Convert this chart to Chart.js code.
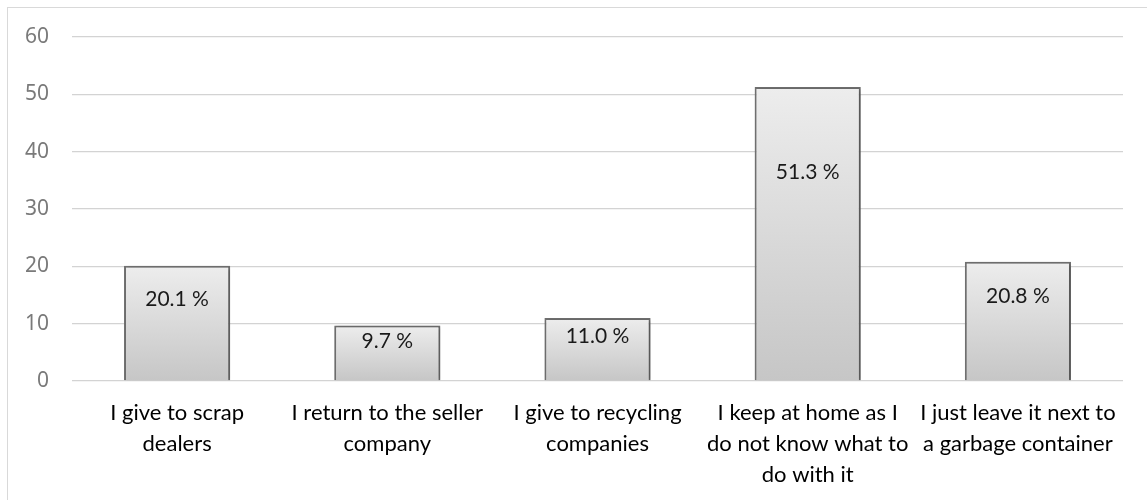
<!DOCTYPE html>
<html>
<head>
<meta charset="utf-8">
<script src="https://cdn.jsdelivr.net/npm/chart.js@4/dist/chart.umd.min.js"></script>
<style>
  html, body { margin: 0; padding: 0; background: #ffffff; overflow: hidden; }
  #wrap { position: relative; width: 1147px; height: 500px; }
  #frame {
    position: absolute; left: 7px; top: 7px; width: 1200px; height: 600px;
    border-left: 1px solid #d9d9d9; border-top: 1px solid #d9d9d9;
  }
  canvas { position: absolute; left: 0; top: 0; }
</style>
</head>
<body>
<div id="wrap">
  <div id="frame"></div>
  <canvas id="chart" width="1147" height="500"></canvas>
</div>
<script>
// What people do with their unused devices (share of respondents, %)
const categories = [
  ["I give to scrap", "dealers"],
  ["I return to the seller", "company"],
  ["I give to recycling", "companies"],
  ["I keep at home as I", "do not know what to", "do with it"],
  ["I just leave it next to", "a garbage container"]
];
const shares = [20.1, 9.7, 11.0, 51.3, 20.8];
const yMin = 0;
const yMax = 60;
const yStep = 10;

// Vertical grey gradient for each bar, from its top down to the baseline
function barFill(ctx) {
  const chart = ctx.chart;
  const area = chart.chartArea;
  if (!area) return '#dcdcdc';
  const yScale = chart.scales.y;
  const top = yScale.getPixelForValue(shares[ctx.dataIndex]);
  const g = chart.ctx.createLinearGradient(0, top, 0, area.bottom);
  g.addColorStop(0, '#ededed');
  g.addColorStop(1, '#c6c6c6');
  return g;
}

// Soft shadow behind the bars
const barShadow = {
  id: 'barShadow',
  beforeDatasetsDraw(chart) {
    const c = chart.ctx;
    c.save();
    c.shadowColor = 'rgba(0,0,0,0.28)';
    c.shadowBlur = 4;
    c.shadowOffsetX = 2;
    c.shadowOffsetY = 1;
  },
  afterDatasetsDraw(chart) {
    chart.ctx.restore();
  }
};

// Percentage written inside the upper part of each bar
const valueLabels = {
  id: 'valueLabels',
  afterDatasetsDraw(chart) {
    const c = chart.ctx;
    const meta = chart.getDatasetMeta(0);
    c.save();
    c.font = '21px Lato, "Noto Sans", sans-serif';
    c.fillStyle = '#1a1a1a';
    c.textAlign = 'center';
    c.textBaseline = 'middle';
    meta.data.forEach((bar, i) => {
      const y = bar.y + (bar.base - bar.y) * 0.29;
      c.fillText(shares[i].toFixed(1) + ' %', bar.x, y);
    });
    c.restore();
  }
};

new Chart(document.getElementById('chart'), {
  type: 'bar',
  data: {
    labels: categories,
    datasets: [{
      data: shares,
      backgroundColor: barFill,
      borderColor: '#707070',
      borderWidth: 2,
      barPercentage: 0.505,
      categoryPercentage: 1.0
    }]
  },
  options: {
    responsive: false,
    devicePixelRatio: 1,
    animation: false,
    layout: { padding: { top: 37, right: 24, left: 0, bottom: 0 } },
    plugins: {
      legend: { display: false },
      tooltip: { enabled: false }
    },
    scales: {
      x: {
        grid: { display: false, drawTicks: false },
        border: { display: false },
        ticks: {
          color: '#000000',
          font: { family: 'Lato, "Noto Sans", sans-serif', size: 22, lineHeight: 31 / 22 },
          padding: 16,
          maxRotation: 0,
          minRotation: 0,
          autoSkip: false
        },
        afterFit(scale) { scale.height = 119; }
      },
      y: {
        min: yMin,
        max: yMax,
        grid: { color: '#d3d3d3', lineWidth: 1.3, drawTicks: false },
        border: { display: false },
        ticks: {
          stepSize: yStep,
          color: '#7a7a7a',
          font: { family: '"Noto Sans", sans-serif', size: 21 },
          padding: 23
        },
        afterFit(scale) { scale.width = 72; }
      }
    }
  },
  plugins: [barShadow, valueLabels]
});
</script>
</body>
</html>
